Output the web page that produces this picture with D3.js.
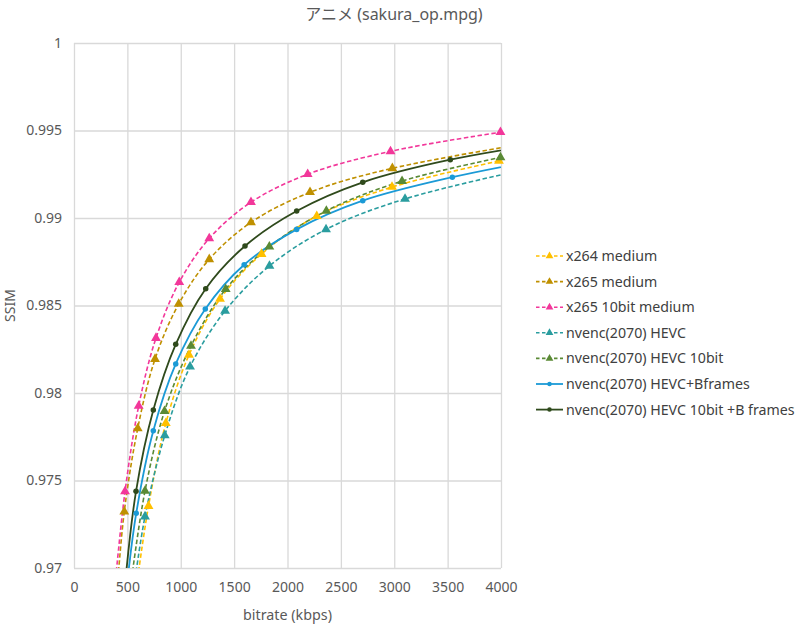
<!DOCTYPE html>
<html>
<head>
<meta charset="utf-8">
<script src="https://cdn.jsdelivr.net/npm/d3@7"></script>
<style>
  body { margin: 0; background: #fff; }
  svg { display: block; }
</style>
</head>
<body>
<div id="chart"></div>
<script>
// values (points below 0.97 / past 4000 kbps sit outside the axes and get clipped)
const x264Rate = [587, 698, 860, 1077, 1368, 1757, 2274, 2979, 3981];
const x264Ssim = [0.969, 0.97354, 0.97827, 0.98217, 0.98537, 0.98794, 0.99011, 0.99177, 0.99326];

const x265Rate = [407, 471, 597, 759, 981, 1267, 1658, 2211, 2982, 4500];
const x265Ssim = [0.969, 0.97322, 0.97798, 0.98194, 0.98509, 0.98764, 0.98975, 0.99147, 0.99284, 0.99452];

const x265TenRate = [384, 478, 606, 768, 986, 1267, 1658, 2189, 2965, 3995];
const x265TenSsim = [0.969, 0.97437, 0.97926, 0.98314, 0.98633, 0.98883, 0.9909, 0.9925, 0.99381, 0.9949];

const hevcRate = [564, 665, 850, 1087, 1415, 1831, 2361, 3101, 4500];
const hevcSsim = [0.969, 0.97294, 0.97757, 0.9815, 0.98469, 0.98726, 0.98935, 0.99109, 0.99314];

const hevcTenRate = [531, 665, 848, 1096, 1421, 1830, 2364, 3073, 3995];
const hevcTenSsim = [0.969, 0.9744, 0.97896, 0.98269, 0.98593, 0.98836, 0.99041, 0.99211, 0.99346];

const hevcBRate = [496, 583, 743, 953, 1230, 1594, 2086, 2705, 3544, 4500];
const hevcBSsim = [0.969, 0.97313, 0.97784, 0.98166, 0.9848, 0.98733, 0.98935, 0.99099, 0.99233, 0.99348];

const hevcTenBRate = [477, 581, 743, 953, 1234, 1602, 2086, 2705, 3525, 4500];
const hevcTenBSsim = [0.969, 0.97438, 0.97903, 0.98278, 0.98596, 0.9884, 0.9904, 0.99204, 0.99333, 0.99435];

const seriesNames = [
  "x264 medium",
  "x265 medium",
  "x265 10bit medium",
  "nvenc(2070) HEVC",
  "nvenc(2070) HEVC 10bit",
  "nvenc(2070) HEVC+Bframes",
  "nvenc(2070) HEVC 10bit +B frames",
];

const xTicks = [0, 500, 1000, 1500, 2000, 2500, 3000, 3500, 4000];
const yTicks = [0.97, 0.975, 0.98, 0.985, 0.99, 0.995, 1];

const rates = [x264Rate, x265Rate, x265TenRate, hevcRate, hevcTenRate, hevcBRate, hevcTenBRate];
const ssims = [x264Ssim, x265Ssim, x265TenSsim, hevcSsim, hevcTenSsim, hevcBSsim, hevcTenBSsim];
const colors = ["#ffc000", "#bf9000", "#f2379a", "#2a9d9f", "#5a8a35", "#1b9ad6", "#2f4a1c"];
const solid = [false, false, false, false, false, true, true];

const font = '"Noto Sans", "Noto Sans CJK JP", sans-serif';
const textColor = "#595959";
const gridColor = "#d9d9d9";

function main() {
  const width = 800;
  const height = 626;
  const left = 74;
  const right = 501;
  const top = 43;
  const bottom = 568;

  const x = d3.scaleLinear().domain([0, 4000]).range([left, right]);
  const y = d3.scaleLinear().domain([0.97, 1]).range([bottom, top]);

  const svg = d3
    .select("#chart")
    .append("svg")
    .attr("width", width)
    .attr("height", height)
    .attr("viewBox", `0 0 ${width} ${height}`)
    .style("font-family", font);

  svg
    .append("defs")
    .append("clipPath")
    .attr("id", "plot-clip")
    .append("rect")
    .attr("x", left)
    .attr("y", top)
    .attr("width", right - left)
    .attr("height", bottom - top);

  // grid + tick labels
  const gx = svg
    .append("g")
    .attr("transform", `translate(0,${bottom})`)
    .call(d3.axisBottom(x).tickValues(xTicks).tickSize(-(bottom - top)).tickPadding(14).tickFormat(d3.format("d")));

  const gy = svg
    .append("g")
    .attr("transform", `translate(${left},0)`)
    .call(
      d3
        .axisLeft(y)
        .tickValues(yTicks)
        .tickSize(-(right - left))
        .tickPadding(12)
        .tickFormat((d) => String(+d.toFixed(3))),
    );

  for (const g of [gx, gy]) {
    g.select(".domain").remove();
    g.selectAll(".tick line").attr("stroke", gridColor).attr("stroke-width", 1.3);
    g.selectAll(".tick text").attr("fill", textColor).attr("font-size", 14).attr("font-family", font);
  }

  // titles
  svg
    .append("text")
    .attr("x", 394)
    .attr("y", 20)
    .attr("text-anchor", "middle")
    .attr("fill", textColor)
    .attr("font-size", 16)
    .text("アニメ (sakura_op.mpg)");

  svg
    .append("text")
    .attr("x", (left + right) / 2)
    .attr("y", 620)
    .attr("text-anchor", "middle")
    .attr("fill", textColor)
    .attr("font-size", 14.3)
    .text("bitrate (kbps)");

  svg
    .append("text")
    .attr("transform", `translate(15,${(top + bottom) / 2}) rotate(-90)`)
    .attr("text-anchor", "middle")
    .attr("fill", textColor)
    .attr("font-size", 14)
    .text("SSIM");

  const series = seriesNames.map((name, i) => ({
    name,
    color: colors[i],
    solid: solid[i],
    points: rates[i].map((r, j) => [r, ssims[i][j]]),
  }));

  const line = d3
    .line()
    .x((d) => x(d[0]))
    .y((d) => y(d[1]))
    .curve(d3.curveCatmullRom.alpha(0.5));

  const gLines = svg.append("g").attr("clip-path", "url(#plot-clip)");
  const tri = d3.symbol(d3.symbolTriangle, 42);
  const dot = d3.symbol(d3.symbolCircle, 24);

  for (const s of series) {
    gLines
      .append("path")
      .attr("d", line(s.points))
      .attr("fill", "none")
      .attr("stroke", s.color)
      .attr("stroke-width", s.solid ? 1.8 : 1.6)
      .attr("stroke-dasharray", s.solid ? null : "4.5,2.5");
  }

  for (const s of series) {
    const inside = s.points.filter((d) => d[0] <= 4000 && d[1] >= 0.97);
    svg
      .append("g")
      .selectAll("path")
      .data(inside)
      .join("path")
      .attr("transform", (d) => `translate(${x(d[0])},${y(d[1])})`)
      .attr("d", s.solid ? dot() : tri())
      .attr("fill", s.color);
  }

  // legend
  const legend = svg.append("g").attr("transform", "translate(536,256)");
  const rows = legend
    .selectAll("g")
    .data(series)
    .join("g")
    .attr("transform", (d, i) => `translate(0,${i * 25.6})`);

  rows
    .append("line")
    .attr("x1", 0)
    .attr("x2", 27)
    .attr("stroke", (d) => d.color)
    .attr("stroke-width", (d) => (d.solid ? 1.8 : 1.6))
    .attr("stroke-dasharray", (d) => (d.solid ? null : "3.5,2.5"));

  rows
    .append("path")
    .attr("transform", "translate(13.5,0)")
    .attr("d", (d) => (d.solid ? d3.symbol(d3.symbolCircle, 16)() : d3.symbol(d3.symbolTriangle, 26)()))
    .attr("fill", (d) => d.color);

  rows
    .append("text")
    .attr("x", 30)
    .attr("dy", "0.35em")
    .attr("fill", "#404040")
    .attr("font-size", 14.2)
    .text((d) => d.name);
}

main();
</script>
</body>
</html>
